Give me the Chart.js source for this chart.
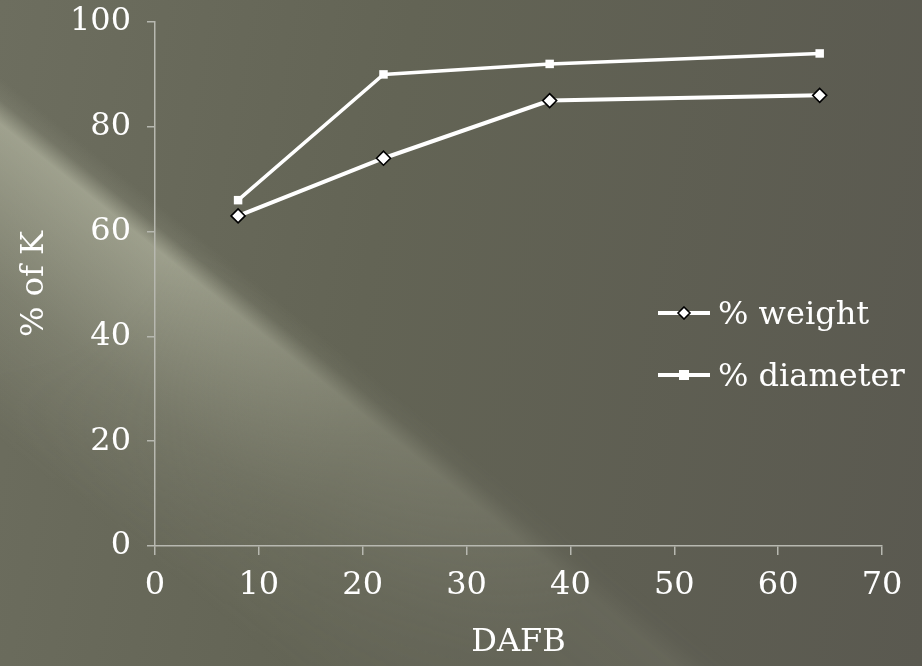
<!DOCTYPE html>
<html lang="en">
<head>
  <meta charset="UTF-8" />
  <title>% of K vs DAFB</title>
  <script src="https://cdn.jsdelivr.net/npm/chart.js"></script>
  <style>
    html, body { margin: 0; padding: 0; }
    body { width: 922px; height: 666px; overflow: hidden; }
    .stage {
      position: relative;
      width: 922px;
      height: 666px;
      background: linear-gradient(100deg, #6d6e5f 0%, #636455 40%, #5a5950 100%);
      font-family: "DejaVu Serif", serif;
    }
    .band {
      position: absolute;
      left: 0; top: 0; width: 922px; height: 666px;
      background: linear-gradient(38.7deg,
        rgba(205, 208, 185, 0) 16%,
        rgba(205, 208, 185, 0.2) 27%,
        rgba(210, 213, 190, 0.5) 38.6%,
        rgba(205, 208, 185, 0.1) 40.3%,
        rgba(205, 208, 185, 0) 42%);
      -webkit-mask-image: radial-gradient(circle at 0px 180px, #000 0px, #000 180px, rgba(0,0,0,0.45) 450px, rgba(0,0,0,0.15) 720px);
      mask-image: radial-gradient(circle at 0px 180px, #000 0px, #000 180px, rgba(0,0,0,0.45) 450px, rgba(0,0,0,0.15) 720px);
    }
    canvas { position: absolute; left: 0; top: 0; }
    .legend {
      position: absolute;
      left: 657px;
      top: 282px;
      color: #fff;
      font-size: 32px;
      line-height: 62px;
    }
    .legend div { display: flex; align-items: center; white-space: nowrap; }
    .legend svg { margin-right: 7px; }
  </style>
</head>
<body>
  <div class="stage">
    <div class="band"></div>
    <canvas id="chart" width="922" height="666"></canvas>
    <div class="legend">
      <div>
        <svg width="54" height="14"><line x1="1" y1="7" x2="53" y2="7" stroke="#fff" stroke-width="4"/>
          <polygon points="27,1 33,7 27,13 21,7" fill="#fff" stroke="#000" stroke-width="1.6"/></svg>% weight
      </div>
      <div>
        <svg width="54" height="14"><line x1="1" y1="7" x2="53" y2="7" stroke="#fff" stroke-width="4"/>
          <rect x="22" y="2" width="10" height="10" fill="#fff"/></svg>% diameter
      </div>
    </div>
  </div>

  <script>
    const dafb = [8, 22, 38, 64];
    const pctWeight = [63, 74, 85, 86];
    const pctDiameter = [66, 90, 92, 94];
    const xTicks = [0, 10, 20, 30, 40, 50, 60, 70];
    const yTicks = [0, 20, 40, 60, 80, 100];

    const axisColor = '#b7b8b0';
    const font = { family: '"DejaVu Serif", serif', size: 32 };

    const toPoints = (xs, ys) => xs.map((x, i) => ({ x: x, y: ys[i] }));

    new Chart(document.getElementById('chart'), {
      type: 'line',
      data: {
        datasets: [
          {
            label: '% diameter',
            data: toPoints(dafb, pctDiameter),
            borderColor: '#fff',
            borderWidth: 3.5,
            pointStyle: 'rect',
            pointRadius: 6,
            pointBackgroundColor: '#fff',
            pointBorderColor: '#fff',
            pointBorderWidth: 0
          },
          {
            label: '% weight',
            data: toPoints(dafb, pctWeight),
            borderColor: '#fff',
            borderWidth: 4,
            pointStyle: 'rectRot',
            pointRadius: 7,
            pointBackgroundColor: '#fff',
            pointBorderColor: '#000',
            pointBorderWidth: 1.6
          }
        ]
      },
      options: {
        responsive: false,
        animation: false,
        layout: { padding: { top: 0, right: 40 } },
        plugins: { legend: { display: false }, tooltip: { enabled: false } },
        scales: {
          x: {
            type: 'linear',
            min: 0,
            max: 70,
            afterBuildTicks: s => { s.ticks = xTicks.map(v => ({ value: v })); },
            afterFit: s => { s.height = 120; },
            border: { color: axisColor, width: 1.5 },
            grid: { drawOnChartArea: false, color: axisColor, lineWidth: 1.5, tickLength: 9 },
            ticks: { color: '#fff', font: font, padding: 11, maxRotation: 0 },
            title: { display: true, text: 'DAFB', color: '#fff', font: font, padding: { top: 16 } }
          },
          y: {
            min: 0,
            max: 100,
            afterBuildTicks: s => { s.ticks = yTicks.map(v => ({ value: v })); },
            afterFit: s => { s.width = 155; },
            border: { color: axisColor, width: 1.5 },
            grid: { drawOnChartArea: false, color: axisColor, lineWidth: 1.5, tickLength: 8 },
            ticks: { color: '#fff', font: { family: font.family, size: font.size, lineHeight: 0.375 }, padding: 16 },
            title: { display: true, text: '% of K', color: '#fff', font: font, padding: { top: 15, bottom: 0 } }
          }
        }
      }
    });
  </script>
</body>
</html>
